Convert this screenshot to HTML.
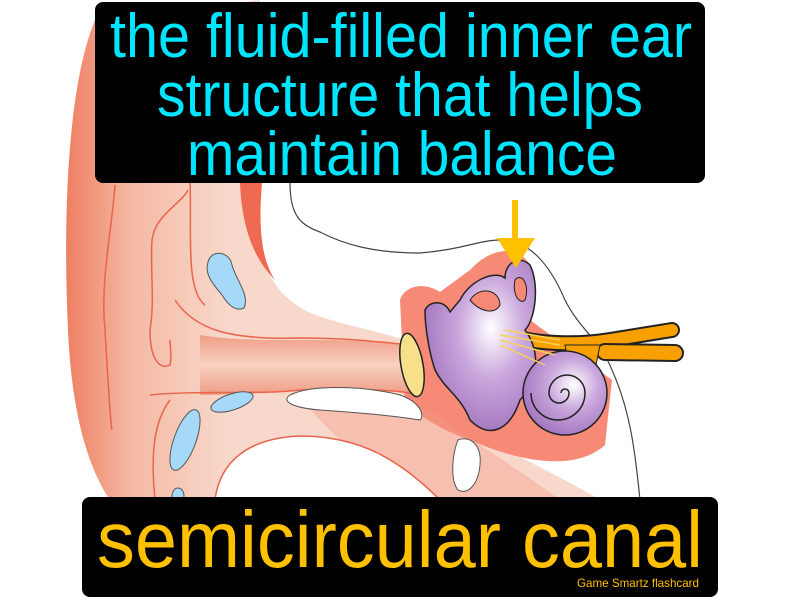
<!DOCTYPE html>
<html><head><meta charset="utf-8"><style>
html,body{margin:0;padding:0;background:#fff;width:800px;height:600px;overflow:hidden}
svg{display:block}
text{font-family:"Liberation Sans",sans-serif}
</style></head><body>
<svg width="800" height="600" viewBox="0 0 800 600" xmlns="http://www.w3.org/2000/svg">
<defs>
<linearGradient id="pin" x1="0" x2="1" y1="0" y2="0">
<stop offset="0" stop-color="#ee7f63"/><stop offset="0.12" stop-color="#f4b8a2"/><stop offset="0.3" stop-color="#f8d8cb"/><stop offset="1" stop-color="#f8d8cb"/></linearGradient>
<linearGradient id="can" x1="0" x2="0" y1="0" y2="1">
<stop offset="0" stop-color="#ef9c84"/><stop offset="0.5" stop-color="#f8d2c2"/><stop offset="1" stop-color="#ef9c84"/></linearGradient>
<radialGradient id="pur" cx="0.6" cy="0.4" r="0.6"><stop offset="0" stop-color="#fff"/><stop offset="0.5" stop-color="#c9a6dc"/><stop offset="1" stop-color="#a77bc2"/></radialGradient>
</defs>
<path d="M95,20 C70,80 62,200 68,330 C72,420 90,470 110,500 L600,500 C560,475 480,440 430,405 L410,392 L410,342 C380,330 320,322 298,306 C265,285 250,240 255,183 L260,0 Z" fill="url(#pin)"/>
<path d="M240,183 L262,183 C258,230 262,260 275,280 C255,260 242,230 240,183 Z" fill="#f06a52"/>
<path d="M400,300 C405,285 425,282 440,292 L470,270 C490,248 515,245 528,262 C538,280 535,300 530,320 L612,380 L605,445 C575,472 520,462 470,440 C440,430 420,415 405,405 Z" fill="#f68a76"/>
<path d="M300,395 C360,400 400,405 430,410 C470,440 520,470 560,500 L420,500 C380,470 330,440 300,395 Z" fill="#f39a86" opacity="0.4"/>
<path d="M200,335 C260,345 330,335 410,345 L410,392 C340,385 260,395 200,395 Z" fill="url(#can)"/>
<path d="M175,300 C195,330 230,340 300,338 C350,338 380,342 410,345" fill="none" stroke="#e8644a" stroke-width="1.5"/>
<path d="M150,395 C200,390 260,395 300,390 C350,388 390,390 410,393" fill="none" stroke="#e8644a" stroke-width="1.5"/>
<path d="M115,185 C112,230 100,280 105,330 C108,380 110,420 112,430" fill="none" stroke="#e8644a" stroke-width="1.5"/>
<path d="M188,190 C180,205 155,215 152,240 C150,270 155,300 150,330 C150,360 160,370 170,365 C172,355 170,345 170,340" fill="none" stroke="#e8644a" stroke-width="1.5"/>
<path d="M190,183 C192,230 185,290 205,305" fill="none" stroke="#e8644a" stroke-width="1.5"/>
<path d="M170,400 C155,420 150,450 155,500" fill="none" stroke="#e8644a" stroke-width="1.5"/>
<path d="M215,500 C220,460 250,438 300,436 C360,436 400,460 440,500" fill="#fff" stroke="#e8644a" stroke-width="1.5"/>
<path d="M290,395 C310,385 360,385 400,395 C420,402 425,415 420,420 C390,415 350,412 320,410 C295,408 280,402 290,395 Z" fill="#fff" stroke="#555" stroke-width="1"/>
<path d="M458,440 C470,435 482,445 480,465 C478,485 468,495 458,490 C450,480 452,455 458,440 Z" fill="#fff" stroke="#555" stroke-width="1"/>
<path d="M208,262 C212,248 230,252 232,265 C236,280 250,295 244,308 C236,312 228,305 222,295 C214,285 204,275 208,262 Z" fill="#a6d8f7" stroke="#555" stroke-width="1"/>
<ellipse cx="232" cy="402" rx="22" ry="8" transform="rotate(-18 232 402)" fill="#a6d8f7" stroke="#555" stroke-width="1"/>
<ellipse cx="185" cy="440" rx="11" ry="32" transform="rotate(20 185 440)" fill="#a6d8f7" stroke="#555" stroke-width="1"/>
<ellipse cx="178" cy="496" rx="6" ry="8" fill="#a6d8f7" stroke="#555" stroke-width="1"/>
<path d="M290,183 C290,215 300,225 320,232 C345,245 375,253 420,253 C460,250 480,240 500,240 C530,240 550,265 565,300 C580,330 600,340 612,370 C630,410 635,450 640,500" fill="none" stroke="#444" stroke-width="1.2"/>
<path d="M505,335 C540,345 580,345 610,340 L672,330" fill="none" stroke="#222" stroke-width="16" stroke-linecap="round"/>
<path d="M505,335 C540,345 580,345 610,340 L672,330" fill="none" stroke="#f7a000" stroke-width="12" stroke-linecap="round"/>
<path d="M605,352 L675,353" stroke="#222" stroke-width="18" stroke-linecap="round"/>
<path d="M605,352 L675,353" stroke="#f7a000" stroke-width="14" stroke-linecap="round"/>
<path d="M565,345 L600,345 L590,395 L575,395 Z" fill="#f7a000" stroke="#222" stroke-width="1"/>
<path d="M425,310 C430,300 445,300 450,312 L460,300 C470,280 495,270 505,278 C505,262 520,255 530,265 C540,285 535,320 525,330 C540,350 540,380 520,400 C510,430 490,440 470,420 C460,395 445,390 435,370 C430,355 425,330 425,310 Z" fill="url(#pur)" stroke="#222" stroke-width="1.5"/>
<circle cx="565" cy="393" r="42" fill="url(#pur)" stroke="#222" stroke-width="1.5"/>
<path d="M565,393 m-4,0 a4,4 0 1,1 8,0 a10,10 0 1,1 -20,0 a18,18 0 1,1 36,0 a27,27 0 1,1 -54,0" fill="none" stroke="#222" stroke-width="1.5"/>
<path d="M470,300 C480,285 500,290 500,305 C495,315 480,312 470,300 Z" fill="#f68a76" stroke="#222" stroke-width="1"/>
<path d="M515,280 C522,272 530,285 525,300 C520,305 512,295 515,280 Z" fill="#f68a76" stroke="#222" stroke-width="1"/>
<path d="M500,335 L560,345 M500,340 L555,355 M500,345 L545,365 M505,330 L560,340" stroke="#f5d25a" stroke-width="1.5"/>
<ellipse cx="412" cy="365" rx="11" ry="32" transform="rotate(-10 412 365)" fill="#f8e08a" stroke="#222" stroke-width="1.5"/>
<rect x="512" y="200" width="6" height="42" fill="#ffc000"/>
<polygon points="497,238 535,238 516,268" fill="#ffc000"/>
<rect x="95" y="2" width="610" height="181" rx="8" fill="#000"/>
<text x="401" y="57" font-size="62" fill="#00e5ff" text-anchor="middle" textLength="582" lengthAdjust="spacingAndGlyphs">the fluid-filled inner ear</text>
<text x="400" y="116" font-size="62" fill="#00e5ff" text-anchor="middle" textLength="486" lengthAdjust="spacingAndGlyphs">structure that helps</text>
<text x="402" y="175" font-size="62" fill="#00e5ff" text-anchor="middle" textLength="430" lengthAdjust="spacingAndGlyphs">maintain balance</text>
<rect x="82" y="497" width="636" height="100" rx="8" fill="#000"/>
<text x="400" y="567" font-size="80" fill="#ffc000" text-anchor="middle" textLength="606" lengthAdjust="spacingAndGlyphs">semicircular canal</text>
<text x="638" y="587" font-size="12" fill="#ffc000" text-anchor="middle" textLength="122" lengthAdjust="spacingAndGlyphs">Game Smartz flashcard</text>
</svg>
</body></html>
